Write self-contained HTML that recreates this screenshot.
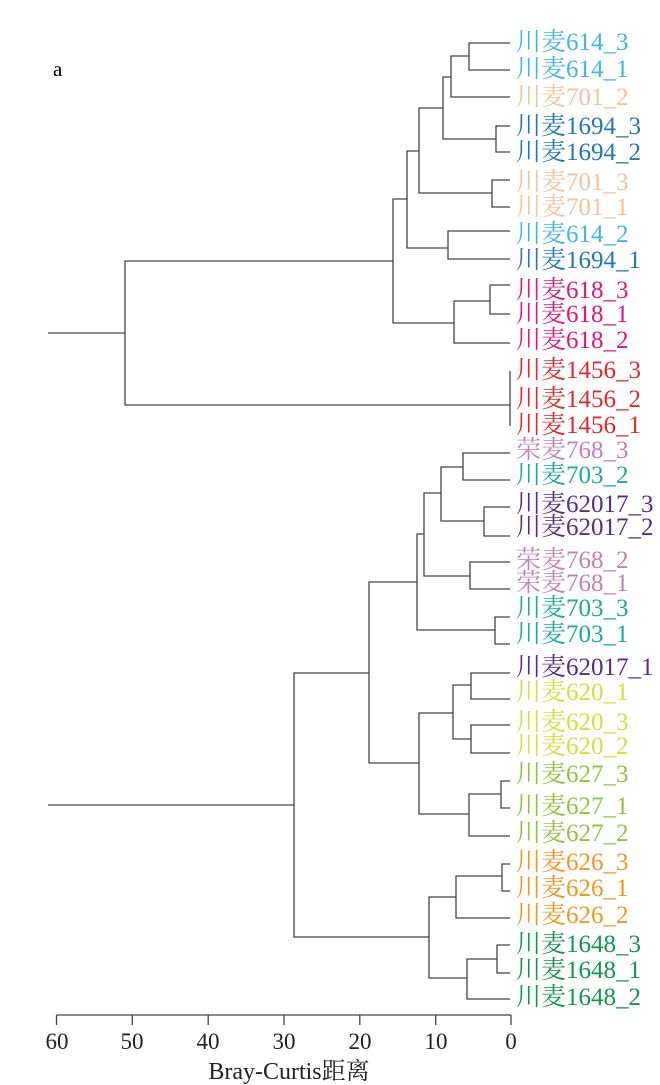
<!DOCTYPE html>
<html><head><meta charset="utf-8"><style>html,body{margin:0;padding:0;background:#fff}svg{display:block}</style></head><body>
<svg width="660" height="1085" xmlns="http://www.w3.org/2000/svg" font-family="'Liberation Serif','Noto Serif CJK SC',serif">
<g stroke="#444" stroke-width="1.3" fill="none">
<path d="M510,43H469V70H510M469,56H451V97H510M510,126H496V152H510M451,77H443V139H496M510,180H492V207H492M492,180V207H510M443,108H419V193H492M510,231H448V259H510M419,151H407V248H448M510,285H490V314H510M510,343H454V301H490M407,199H393V323H454M393,261H125V405H510M510,371V426M48,333H125"/>
<path d="M510,453H463V480H510M510,507H484V536H510M463,467H441V521H484M510,562H470V589H510M441,493H424V576H470M510,617H495V644H510M424,534H417V630H495M510,673H471V699H510M510,725H471V753H510M471,685H453V739H471M510,781H501V808H510M501,794H469V836H510M453,713H419V814H469M417,582H369V763H419M510,864H502V891H510M502,876H456V918H510M510,945H497V973H510M497,959H467V999H510M456,897H429V978H467M369,673H294V937H429M48,805H294"/>
<path d="M56.5,1015H511M56.5,1015v10M132.3,1015v10M208.2,1015v10M284,1015v10M359.8,1015v10M435.7,1015v10M511,1015v10"/>
</g>
<text x="53" y="76" font-size="21">a</text>
<g font-size="23" text-anchor="middle" fill="#222">
<text x="57" y="1049">60</text><text x="132" y="1049">50</text><text x="208" y="1049">40</text><text x="284" y="1049">30</text><text x="360" y="1049">20</text><text x="436" y="1049">10</text><text x="511" y="1049">0</text>
<text x="289" y="1079" font-size="24">Bray-Curtis距离</text>
</g>
<g font-size="25">
<text x="516" y="50" fill="#3fb6e6">川麦614_3</text>
<text x="516" y="77" fill="#3fb6e6">川麦614_1</text>
<text x="516" y="105" fill="#f5c29a">川麦701_2</text>
<text x="516" y="134" fill="#2277b5">川麦1694_3</text>
<text x="516" y="160" fill="#2277b5">川麦1694_2</text>
<text x="516" y="190" fill="#f5c29a">川麦701_3</text>
<text x="516" y="215" fill="#f5c29a">川麦701_1</text>
<text x="516" y="242" fill="#3fb6e6">川麦614_2</text>
<text x="516" y="268" fill="#2277b5">川麦1694_1</text>
<text x="516" y="298" fill="#e0177f">川麦618_3</text>
<text x="516" y="322" fill="#e0177f">川麦618_1</text>
<text x="516" y="348" fill="#e0177f">川麦618_2</text>
<text x="516" y="378" fill="#e8262a">川麦1456_3</text>
<text x="516" y="407" fill="#e8262a">川麦1456_2</text>
<text x="516" y="433" fill="#e8262a">川麦1456_1</text>
<text x="516" y="458" fill="#c47fb8">荣麦768_3</text>
<text x="516" y="483" fill="#1aab9a">川麦703_2</text>
<text x="516" y="512" fill="#5b2a8a">川麦62017_3</text>
<text x="516" y="535" fill="#5b2a8a">川麦62017_2</text>
<text x="516" y="568" fill="#c47fb8">荣麦768_2</text>
<text x="516" y="591" fill="#c47fb8">荣麦768_1</text>
<text x="516" y="616" fill="#1aab9a">川麦703_3</text>
<text x="516" y="642" fill="#1aab9a">川麦703_1</text>
<text x="516" y="675" fill="#5b2a8a">川麦62017_1</text>
<text x="516" y="700" fill="#d4e03a">川麦620_1</text>
<text x="516" y="730" fill="#d4e03a">川麦620_3</text>
<text x="516" y="754" fill="#d4e03a">川麦620_2</text>
<text x="516" y="782" fill="#8cc63f">川麦627_3</text>
<text x="516" y="814" fill="#8cc63f">川麦627_1</text>
<text x="516" y="841" fill="#8cc63f">川麦627_2</text>
<text x="516" y="870" fill="#f7941d">川麦626_3</text>
<text x="516" y="896" fill="#f7941d">川麦626_1</text>
<text x="516" y="923" fill="#f7941d">川麦626_2</text>
<text x="516" y="952" fill="#10984c">川麦1648_3</text>
<text x="516" y="978" fill="#10984c">川麦1648_1</text>
<text x="516" y="1005" fill="#10984c">川麦1648_2</text>
</g>
</svg>
</body></html>
